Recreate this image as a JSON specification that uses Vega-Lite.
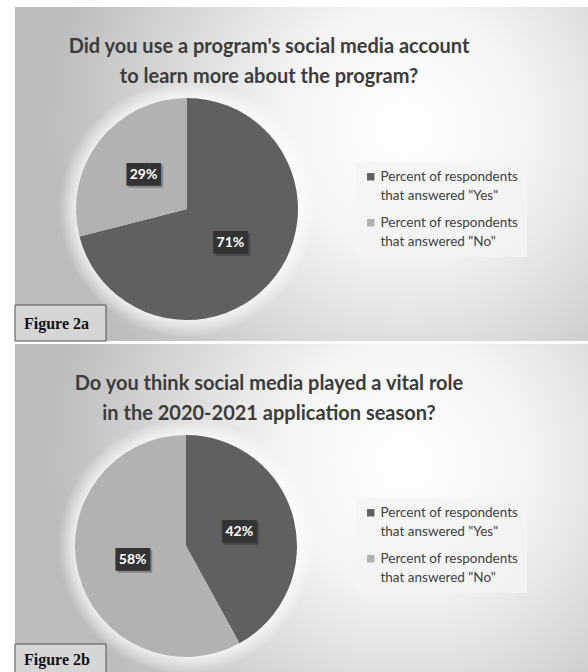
{
  "$schema": "https://vega.github.io/schema/vega-lite/v6.json",
  "padding": {"left": 14, "top": 7, "right": 0, "bottom": 0},
  "background": "#ffffff",
  "spacing": 2,
  "config": {"view": {"stroke": null}, "style": {"guide-label": {"lineHeight": 19}}},
  "resolve": {"scale": {"color": "independent", "theta": "independent"}, "legend": {"color": "independent"}},
  "vconcat": [
    {
      "width": 574,
      "height": 334,
      "data": {"values": [
        {"answer": "Yes", "share": 0.71, "ord": 1},
        {"answer": "No", "share": 0.29, "ord": 2}
      ]},
      "layer": [
        {
          "data": {"values": [{}]},
          "mark": {"type": "rect", "x": 0, "x2": 574, "y": 0, "y2": 334,
            "color": {"gradient": "radial", "x1": 0.68, "y1": 0.42, "r1": 0, "x2": 0.68, "y2": 0.42, "r2": 0.62,
              "stops": [{"offset": 0, "color": "#ffffff"}, {"offset": 0.35, "color": "#f4f4f4"}, {"offset": 1, "color": "#bcbcbc"}]}},
          "encoding": {}
        },
        {
          "data": {"values": [{}]},
          "mark": {"type": "text", "text": ["Did you use a program's social media account", "to learn more about the program?"],
            "x": 254, "y": 40, "baseline": "middle", "align": "center", "font": "Lato", "fontWeight": "bold", "fontSize": 20, "lineHeight": 30, "color": "#3c3c3c"},
          "encoding": {}
        },
        {
          "data": {"values": [{}]},
          "mark": {"type": "arc", "x": 172, "y": 202, "outerRadius": 128, "theta": 0, "theta2": 6.2832,
            "color": {"gradient": "radial", "x1": 0.5, "y1": 0.5, "r1": 0, "x2": 0.5, "y2": 0.5, "r2": 0.5,
              "stops": [{"offset": 0, "color": "rgba(255,255,255,0.75)"}, {"offset": 0.86, "color": "rgba(255,255,255,0.75)"}, {"offset": 1, "color": "rgba(255,255,255,0)"}]}},
          "encoding": {}
        },
        {
          "mark": {"type": "arc", "x": 172, "y": 202, "outerRadius": 111},
          "encoding": {
            "theta": {"field": "share", "type": "quantitative", "stack": true},
            "order": {"field": "ord", "type": "quantitative"},
            "color": {"field": "answer", "type": "nominal",
              "scale": {"domain": ["Yes", "No"], "range": ["#606060", "#b2b2b2"]},
              "legend": {"orient": "none", "legendX": 341, "legendY": 155, "title": null, "symbolType": "square", "symbolSize": 55,
                "labelFont": "Lato", "labelFontSize": 13.5, "labelColor": "#404040", "labelLimit": 300, "labelOffset": 3,
                "labelExpr": "['Percent of respondents', 'that answered \"' + datum.label + '\"']",
                "fillColor": "rgba(244,244,244,0.8)", "padding": 8, "rowPadding": 12, "symbolStrokeWidth": 0}}
          }
        },
        {
          "mark": {"type": "text", "x": 174, "y": 204, "radius": 55, "text": "███", "font": "DejaVu Sans Mono", "fontSize": 19, "baseline": "middle", "color": "#000000", "opacity": 0.25},
          "encoding": {
            "theta": {"field": "share", "type": "quantitative", "stack": true},
            "order": {"field": "ord", "type": "quantitative"}
          }
        },
        {
          "mark": {"type": "text", "x": 172, "y": 202, "radius": 55, "text": "███", "font": "DejaVu Sans Mono", "fontSize": 19, "baseline": "middle", "color": "#333333"},
          "encoding": {
            "theta": {"field": "share", "type": "quantitative", "stack": true},
            "order": {"field": "ord", "type": "quantitative"}
          }
        },
        {
          "mark": {"type": "text", "x": 172, "y": 202, "radius": 55, "font": "Lato", "fontWeight": "bold", "fontSize": 14, "baseline": "middle", "color": "#ffffff"},
          "encoding": {
            "theta": {"field": "share", "type": "quantitative", "stack": true},
            "order": {"field": "ord", "type": "quantitative"},
            "text": {"field": "share", "type": "quantitative", "format": ".0%"}
          }
        },
        {
          "data": {"values": [{}]},
          "mark": {"type": "rect", "x": 0, "x2": 91, "y": 298, "y2": 334, "fill": "#d6d6d6", "stroke": "#505050", "strokeWidth": 1},
          "encoding": {}
        },
        {
          "data": {"values": [{"fig": "Figure 2a"}]},
          "mark": {"type": "text", "x": 9, "y": 317, "align": "left", "baseline": "middle", "font": "Liberation Serif", "fontWeight": "bold", "fontSize": 16, "color": "#111111"},
          "encoding": {"text": {"field": "fig", "type": "nominal"}}
        }
      ]
    },
    {
      "width": 574,
      "height": 329,
      "data": {"values": [
        {"answer": "Yes", "share": 0.42, "ord": 1},
        {"answer": "No", "share": 0.58, "ord": 2}
      ]},
      "layer": [
        {
          "data": {"values": [{}]},
          "mark": {"type": "rect", "x": 0, "x2": 574, "y": 0, "y2": 329,
            "color": {"gradient": "radial", "x1": 0.68, "y1": 0.42, "r1": 0, "x2": 0.68, "y2": 0.42, "r2": 0.62,
              "stops": [{"offset": 0, "color": "#ffffff"}, {"offset": 0.35, "color": "#f4f4f4"}, {"offset": 1, "color": "#bcbcbc"}]}},
          "encoding": {}
        },
        {
          "data": {"values": [{}]},
          "mark": {"type": "text", "text": ["Do you think social media played a vital role", "in the 2020-2021 application season?"],
            "x": 254, "y": 40, "baseline": "middle", "align": "center", "font": "Lato", "fontWeight": "bold", "fontSize": 20, "lineHeight": 30, "color": "#3c3c3c"},
          "encoding": {}
        },
        {
          "data": {"values": [{}]},
          "mark": {"type": "arc", "x": 171, "y": 202, "outerRadius": 128, "theta": 0, "theta2": 6.2832,
            "color": {"gradient": "radial", "x1": 0.5, "y1": 0.5, "r1": 0, "x2": 0.5, "y2": 0.5, "r2": 0.5,
              "stops": [{"offset": 0, "color": "rgba(255,255,255,0.75)"}, {"offset": 0.86, "color": "rgba(255,255,255,0.75)"}, {"offset": 1, "color": "rgba(255,255,255,0)"}]}},
          "encoding": {}
        },
        {
          "mark": {"type": "arc", "x": 171, "y": 202, "outerRadius": 111},
          "encoding": {
            "theta": {"field": "share", "type": "quantitative", "stack": true},
            "order": {"field": "ord", "type": "quantitative"},
            "color": {"field": "answer", "type": "nominal",
              "scale": {"domain": ["Yes", "No"], "range": ["#606060", "#b2b2b2"]},
              "legend": {"orient": "none", "legendX": 341, "legendY": 154, "title": null, "symbolType": "square", "symbolSize": 55,
                "labelFont": "Lato", "labelFontSize": 13.5, "labelColor": "#404040", "labelLimit": 300, "labelOffset": 3,
                "labelExpr": "['Percent of respondents', 'that answered \"' + datum.label + '\"']",
                "fillColor": "rgba(244,244,244,0.8)", "padding": 8, "rowPadding": 12, "symbolStrokeWidth": 0}}
          }
        },
        {
          "mark": {"type": "text", "x": 173, "y": 204, "radius": 55, "text": "███", "font": "DejaVu Sans Mono", "fontSize": 19, "baseline": "middle", "color": "#000000", "opacity": 0.25},
          "encoding": {
            "theta": {"field": "share", "type": "quantitative", "stack": true},
            "order": {"field": "ord", "type": "quantitative"}
          }
        },
        {
          "mark": {"type": "text", "x": 171, "y": 202, "radius": 55, "text": "███", "font": "DejaVu Sans Mono", "fontSize": 19, "baseline": "middle", "color": "#333333"},
          "encoding": {
            "theta": {"field": "share", "type": "quantitative", "stack": true},
            "order": {"field": "ord", "type": "quantitative"}
          }
        },
        {
          "mark": {"type": "text", "x": 171, "y": 202, "radius": 55, "font": "Lato", "fontWeight": "bold", "fontSize": 14, "baseline": "middle", "color": "#ffffff"},
          "encoding": {
            "theta": {"field": "share", "type": "quantitative", "stack": true},
            "order": {"field": "ord", "type": "quantitative"},
            "text": {"field": "share", "type": "quantitative", "format": ".0%"}
          }
        },
        {
          "data": {"values": [{}]},
          "mark": {"type": "rect", "x": 0, "x2": 91, "y": 300, "y2": 329, "fill": "#d6d6d6", "stroke": "#505050", "strokeWidth": 1},
          "encoding": {}
        },
        {
          "data": {"values": [{"fig": "Figure 2b"}]},
          "mark": {"type": "text", "x": 9, "y": 316, "align": "left", "baseline": "middle", "font": "Liberation Serif", "fontWeight": "bold", "fontSize": 16, "color": "#111111"},
          "encoding": {"text": {"field": "fig", "type": "nominal"}}
        }
      ]
    }
  ]
}
